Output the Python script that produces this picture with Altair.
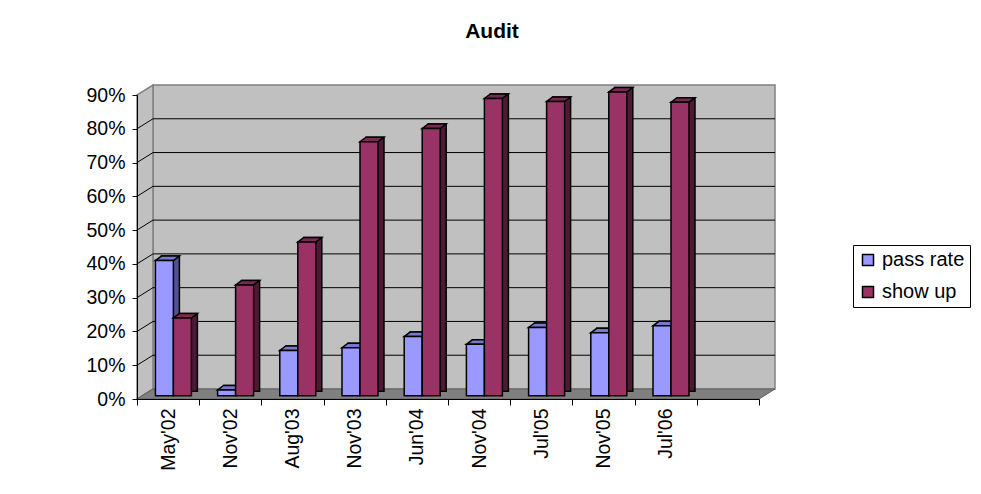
import altair as alt
import pandas as pd

# ---- data ----
categories = ["May'02", "Nov'02", "Aug'03", "Nov'03", "Jun'04", "Nov'04", "Jul'05", "Nov'05", "Jul'06"]
pass_rate = [0.40, 0.017, 0.134, 0.142, 0.175, 0.152, 0.202, 0.186, 0.207]
show_up = [0.23, 0.328, 0.455, 0.752, 0.791, 0.880, 0.871, 0.899, 0.869]
series_names = ["pass rate", "show up"]
y_ticks = [0.0, 0.1, 0.2, 0.3, 0.4, 0.5, 0.6, 0.7, 0.8, 0.9]
x_domain = categories + [" "]  # empty trailing slot on the category axis

# ---- layout / style constants ----
W, H = 622, 304          # plot (front plane) size
DX, DY = 16, 10          # depth of the walls
BDX, BDY = 5.3, 3.3      # depth of bar front plane
SX, SY = 6, 4.5          # bar thickness (3D)
BAR = 18
FONT = "Liberation Sans"
FS = 19.5
front_col = ["#9999ff", "#993366"]
side_col = ["#52528f", "#4d1a33"]
top_col = ["#7777cc", "#7a2952"]
bar_center = [-9 + BDX, 9 + BDX]

rows = []
for c, p, s in zip(categories, pass_rate, show_up):
    rows.append({"cat": c, "series": series_names[0], "value": p})
    rows.append({"cat": c, "series": series_names[1], "value": s})
df = pd.DataFrame(rows)
grid_df = pd.DataFrame({"v": y_ticks[1:-1]})
one = pd.DataFrame({"k": [0]})

ysc = alt.Scale(domain=[0, 0.9], nice=False, zero=True)
yax = alt.Axis(values=y_ticks, format=".0%", title=None, grid=False, tickSize=5,
               tickColor="black", domainColor="black", labelColor="black",
               labelFont=FONT, labelFontSize=FS, labelPadding=7, zindex=1)
xsc = alt.Scale(domain=x_domain, paddingInner=0, paddingOuter=0)
xax = alt.Axis(title=None, labelAngle=-90, tickBand="extent", tickSize=6, tickColor="black",
               domainColor="black", labelColor="black", labelFont=FONT, labelFontSize=FS,
               labelPadding=3, grid=False, labelAlign="right", labelBaseline="middle", zindex=1)

X = alt.X("cat:N", scale=xsc, axis=xax)
Y = alt.Y("value:Q", scale=ysc, axis=yax)

base = alt.Chart(df)

# ---- walls ----
back_wall = alt.Chart(one).mark_rect(fill="#c0c0c0", stroke="#808080", strokeWidth=1.5,
                                      yOffset=-DY, y2Offset=-DY).encode(
    x=alt.value(DX), x2=alt.value(W + DX),
    y=alt.Y(datum=0.9, type="quantitative", scale=ysc, axis=yax),
    y2=alt.Y2(datum=0))

left_path = f"M0,0L0,{-H}L{DX},{-H - DY}L{DX},{-DY}Z"
left_wall = alt.Chart(one).mark_point(shape=left_path, size=4, filled=True, fill="#c0c0c0",
                                      stroke="#808080", strokeWidth=1.5, opacity=1).encode(
    x=alt.value(0), y=alt.Y(datum=0, type="quantitative", scale=ysc, axis=yax))

floor_path = f"M0,0L{W},0L{W + DX},{-DY}L{DX},{-DY}Z"
floor = alt.Chart(one).mark_point(shape=floor_path, size=4, filled=True, fill="#808080",
                                  stroke="#606060", strokeWidth=1, opacity=1).encode(
    x=alt.value(0), y=alt.Y(datum=0, type="quantitative", scale=ysc, axis=yax))

back_grid = alt.Chart(grid_df).mark_rule(color="black", strokeWidth=1, yOffset=-DY).encode(
    x=alt.value(DX), x2=alt.value(W + DX),
    y=alt.Y("v:Q", scale=ysc, axis=yax))

left_grid = alt.Chart(grid_df).mark_rule(color="black", strokeWidth=1, y2Offset=-DY).encode(
    x=alt.value(0), x2=alt.value(DX),
    y=alt.Y("v:Q", scale=ysc, axis=yax), y2="v:Q")

legend = alt.Legend(orient="none", legendX=716, legendY=150, title=None, symbolType="square",
                    symbolSize=121, symbolStrokeColor="black", symbolStrokeWidth=1.5,
                    symbolOpacity=1, labelFont=FONT, labelFontSize=20, labelColor="black",
                    labelOffset=4, rowPadding=12, padding=5, strokeColor="black",
                    fillColor="white")
color = alt.Color("series:N", scale=alt.Scale(domain=series_names, range=front_col), legend=legend)

layers = [back_wall, left_wall, floor, back_grid, left_grid]
top_path = f"M{-BAR/2},0L{BAR/2},0L{BAR/2 + SX},{-SY}L{-BAR/2 + SX},{-SY}Z"
for i, s in enumerate(series_names):
    sub = base.transform_filter(alt.datum.series == s)
    c = bar_center[i]
    side = sub.mark_bar(width=BAR, fill=side_col[i], stroke="black", strokeWidth=1.5,
                        xOffset=c + SX, yOffset=-BDY - SY, y2Offset=-BDY - SY).encode(x=X, y=Y)
    top = sub.mark_point(shape=top_path, size=4, filled=True, fill=top_col[i], stroke="black",
                         strokeWidth=1.5, opacity=1, xOffset=c, yOffset=-BDY).encode(x=X, y=Y)
    front = sub.mark_bar(width=BAR, stroke="black", strokeWidth=1.5, opacity=1,
                         xOffset=c, yOffset=-BDY, y2Offset=-BDY).encode(x=X, y=Y, color=color)
    layers += [side, top, front]

chart = alt.layer(*layers).properties(
    width=W, height=H,
    autosize=alt.AutoSizeParams(type="none"),
    padding={"left": 129, "top": 87, "right": 214, "bottom": 87},
    title=alt.TitleParams("Audit", font=FONT, fontSize=21, fontWeight="bold", color="black",
                          anchor="middle", frame="group", dx=44, offset=23,
                          baseline="alphabetic"),
    background="white",
).configure_view(stroke=None)

chart.save("out.html", embed_options={"renderer": "svg", "actions": False})
